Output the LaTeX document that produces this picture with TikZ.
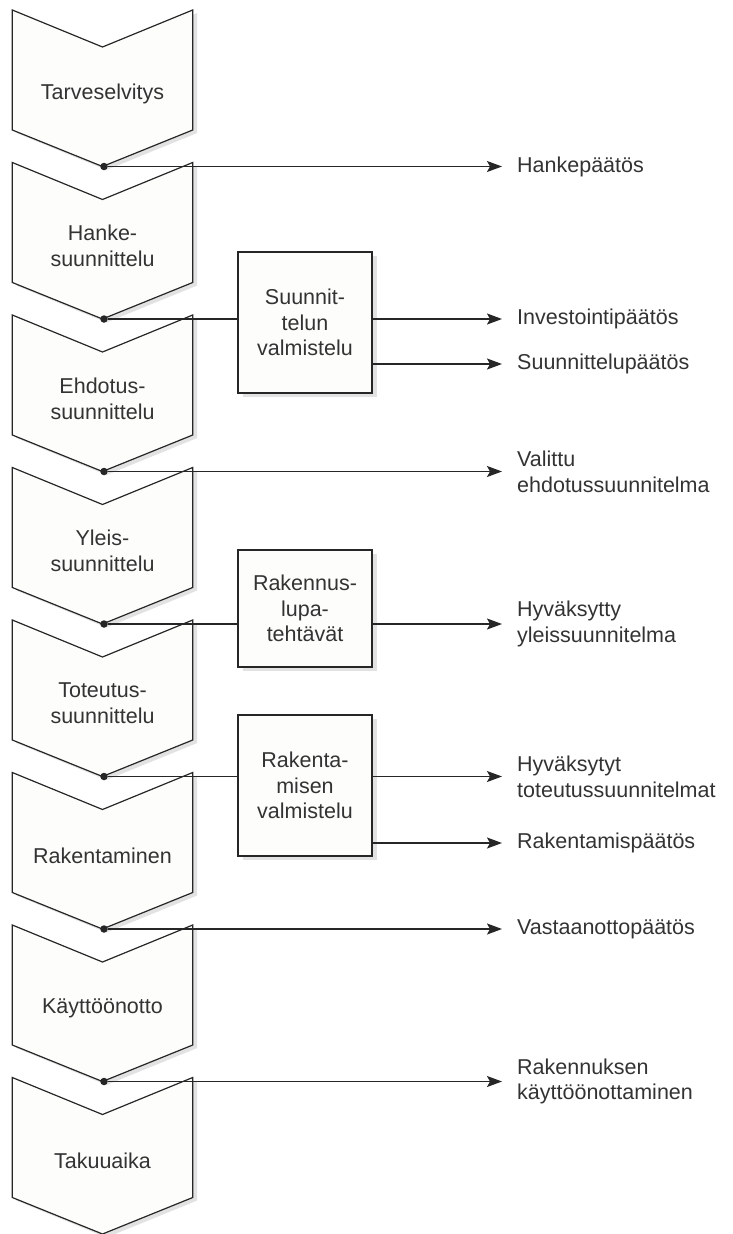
\documentclass[tikz,border=0pt]{standalone}
\usepackage{fontspec}
\setmainfont{Liberation Sans}
\usetikzlibrary{arrows.meta,shadows}
\definecolor{ink}{HTML}{262626}
\definecolor{txt}{HTML}{333333}
\definecolor{paper}{HTML}{FDFDFB}
\definecolor{shade}{HTML}{E2E2E2}
\begin{document}
\begin{tikzpicture}[x=1pt,y=-1pt,
  chev/.style={draw=ink, line width=1.2pt, fill=paper, line join=miter},
  chevshadow/.style={fill=shade},
  stage/.style={font=\fontsize{21.5}{25.7}\selectfont, text=txt, align=center, inner sep=0pt},
  lab/.style={font=\fontsize{21.5}{25.7}\selectfont, text=txt, align=left, inner sep=0pt, anchor=west},
  box/.style={draw=ink, line width=1.2pt, fill=paper, minimum width=134pt, align=center,
    font=\fontsize{21.5}{25.7}\selectfont, text=txt, inner sep=0pt,
    drop shadow={shadow xshift=5pt, shadow yshift=-4pt, fill=shade, opacity=1}},
  dot/.style={circle, fill=ink, inner sep=0pt, minimum size=7.5pt},
  arr/.style={draw=ink, line width=1.4pt, -{Stealth[length=15pt,width=11pt,inset=3pt]}, shorten >=15pt},
  ln/.style={draw=ink, line width=1.4pt}
]
\useasboundingbox (0,0) rectangle (732,1234);

% chevrons
\foreach \i/\t in {0/Tarveselvitys, 1/{Hanke-\\suunnittelu}, 2/{Ehdotus-\\suunnittelu},
  3/{Yleis-\\suunnittelu}, 4/{Toteutus-\\suunnittelu}, 5/Rakentaminen, 6/Käyttöönotto, 7/Takuuaika}{
  \pgfmathsetmacro\y{10+152.5*\i}
  \fill[chevshadow] (16.3,\y+3) -- (106.5,\y+40) -- (197.2,\y+3) -- (197.2,\y+123) -- (106.5,\y+160) -- (16.3,\y+123) -- cycle;
  \draw[chev] (12.3,\y) -- (102.5,\y+37) -- (192.7,\y) -- (192.7,\y+120) -- (102.5,\y+156.5) -- (12.3,\y+120) -- cycle;
  \node[stage] (s\i) at (102.5,\y+83.5) {\t};
}

% side boxes
\node[box, minimum height=141pt] (bA) at (305,322.5) {Suunnit-\\telun\\valmistelu};
\node[box, minimum height=117pt] (bB) at (305,608.5) {Rakennus-\\lupa-\\tehtävät};
\node[box, minimum height=141pt] (bC) at (305,785.5) {Rakenta-\\misen\\valmistelu};

% dots
\foreach \i in {0,...,6}{
  \pgfmathsetmacro\y{10+152.5*\i+156.5}
  \node[dot] (d\i) at (104,\y) {};
}

% labels
\node[lab] (l0) at (517,166.5) {Hankepäätös};
\node[lab] (l1a) at (517,319) {Investointipäätös};
\node[lab] (l1b) at (517,364) {Suunnittelupäätös};
\node[lab] (l2) at (517,471.5) {Valittu\\ehdotussuunnitelma};
\node[lab] (l3) at (517,624) {Hyväksytty\\yleissuunnitelma};
\node[lab] (l4a) at (517,776.5) {Hyväksytyt\\toteutussuunnitelmat};
\node[lab] (l4b) at (517,843) {Rakentamispäätös};
\node[lab] (l5) at (517,929) {Vastaanottopäätös};
\node[lab] (l6) at (517,1081.5) {Rakennuksen\\käyttöönottaminen};

% connectors
\draw[arr] (d0) -- (d0 -| l0.west);
\draw[ln] (d1) -- (d1 -| bA.west);
\draw[arr] (d1 -| bA.east) -- (d1 -| l1a.west);
\draw[arr] (l1b.west -| bA.east) -- (l1b.west);
\draw[arr] (d2) -- (d2 -| l2.west);
\draw[ln] (d3) -- (d3 -| bB.west);
\draw[arr] (d3 -| bB.east) -- (d3 -| l3.west);
\draw[ln] (d4) -- (d4 -| bC.west);
\draw[arr] (d4 -| bC.east) -- (d4 -| l4a.west);
\draw[arr] (l4b.west -| bC.east) -- (l4b.west);
\draw[arr] (d5) -- (d5 -| l5.west);
\draw[arr] (d6) -- (d6 -| l6.west);
\end{tikzpicture}
\end{document}
